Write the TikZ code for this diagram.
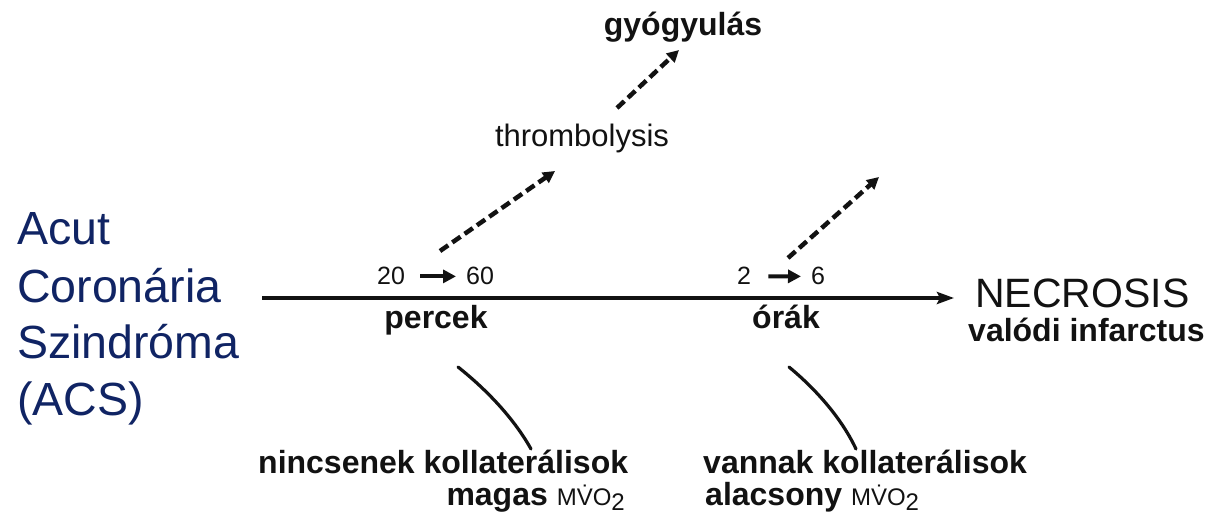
\documentclass[tikz,border=0pt]{standalone}
\usepackage{fontspec}
\setmainfont{Liberation Sans}
\usetikzlibrary{arrows.meta}
\definecolor{navy}{RGB}{16,36,100}
\definecolor{ink}{RGB}{18,18,18}
\newcommand\mvotext{{\mdseries\fontsize{24}{24}\selectfont MV̇O\raisebox{-0.22em}{2}}}
\begin{document}
\begin{tikzpicture}[x=1pt,y=-1pt,
  lbl/.style={inner sep=0pt, text=ink},
  boldlbl/.style={lbl, font=\fontsize{32}{36}\selectfont\bfseries},
  numlbl/.style={lbl, font=\fontsize{25}{28}\selectfont},
  biglbl/.style={inner sep=0pt, text=navy, font=\fontsize{46.5}{52}\selectfont},
  mainarrow/.style={draw=ink, line width=4pt, -{Stealth[length=17pt,width=12pt,inset=3pt]}},
  dasharrow/.style={draw=ink, line width=4.5pt, dash pattern=on 10pt off 5pt, -{Triangle[length=12pt,width=12pt]}},
  smallarrow/.style={draw=ink, line width=4pt, -{Triangle[length=13pt,width=13pt]}},
  curveline/.style={draw=ink, line width=3.2pt, line cap=round}
]
\useasboundingbox[fill=white] (0,0) rectangle (1215,521);

% left title
\node[biglbl, anchor=base west] (acut) at (17,245) {Acut};
\node[biglbl, anchor=base west] (coro) at (17,302) {Coronária};
\node[biglbl, anchor=base west] (szin) at (17,358) {Szindróma};
\node[biglbl, anchor=base west] (acs)  at (17,415) {(ACS)};

% main time axis
\coordinate (axs) at (262,298);
\coordinate (axe) at (954,298);
\draw[mainarrow] (axs) -- (axe);

% numbers above axis
\node[numlbl, anchor=base west] (n20) at (377,285) {20};
\node[numlbl, anchor=base west] (n60) at (466,285) {60};
\draw[smallarrow] ([xshift=15pt]n20.east) -- ([xshift=-10pt]n60.west);
\node[numlbl, anchor=base west] (n2) at (737,285) {2};
\node[numlbl, anchor=base west] (n6) at (811,285) {6};
\draw[smallarrow] ([xshift=17pt]n2.east) -- ([xshift=-10pt]n6.west);

% labels below axis
\node[boldlbl, anchor=base] (percek) at (436,328) {percek};
\node[boldlbl, anchor=base] (orak) at (786,328) {órák};

% outcome
\node[lbl, anchor=base west, font=\fontsize{41}{44}\selectfont] (necr) at (975,308) {NECROSIS};
\node[boldlbl, anchor=base west] (valodi) at (968,341) {valódi infarctus};

% upper branch
\node[lbl, anchor=base, font=\fontsize{31}{34}\selectfont] (thromb) at (582,147) {thrombolysis};
\node[boldlbl, anchor=base] (gyogy) at (683,36) {gyógyulás};
\coordinate (d1a) at (440,251); \coordinate (d1b) at (555,171);
\coordinate (d2a) at (617,108); \coordinate (d2b) at (679,50);
\coordinate (d3a) at (788,258); \coordinate (d3b) at (879,177);
\draw[dasharrow] (d1a) -- (d1b);
\draw[dasharrow] (d2a) -- (d2b);
\draw[dasharrow] (d3a) -- (d3b);

% bottom conditions
\node[boldlbl, anchor=base west] (nincs) at (258,473) {nincsenek kollaterálisok};
\node[boldlbl, anchor=base east] (magas) at (625,505) {magas \mvotext};
\node[boldlbl, anchor=base west] (vannak) at (703,473) {vannak kollaterálisok};
\node[boldlbl, anchor=base west] (alacs) at (705,505) {alacsony \mvotext};

\coordinate (c1a) at (458,367); \coordinate (c1b) at (531,449);
\coordinate (c2a) at (789,367); \coordinate (c2b) at (856,449);
\draw[curveline] (c1a) .. controls (482,386) and (512,415) .. (c1b);
\draw[curveline] (c2a) .. controls (812,386) and (840,415) .. (c2b);
\end{tikzpicture}
\end{document}
